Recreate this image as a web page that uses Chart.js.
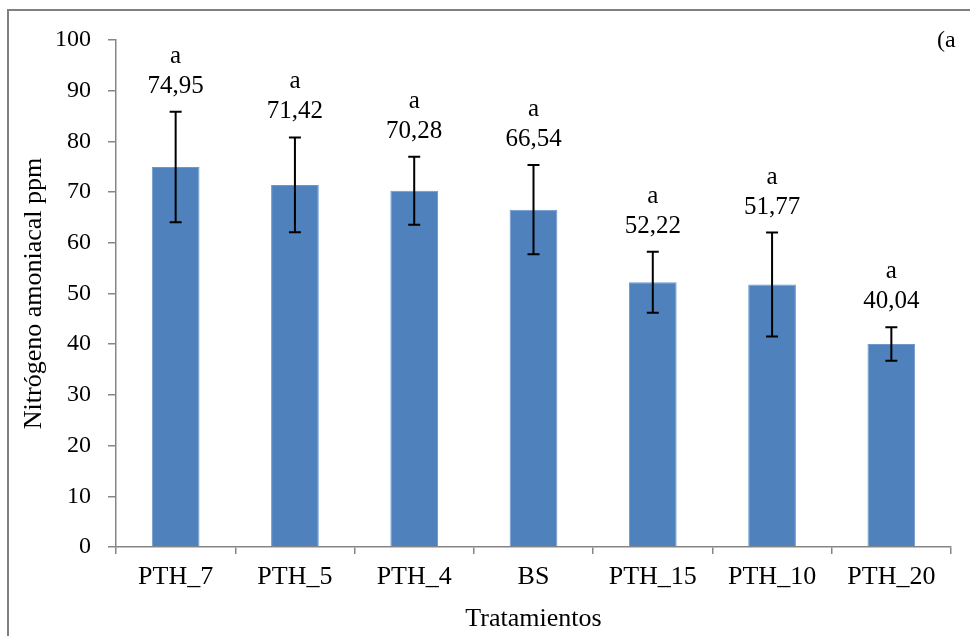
<!DOCTYPE html>
<html>
<head>
<meta charset="utf-8">
<script src="https://cdn.jsdelivr.net/npm/chart.js@4.4.1/dist/chart.umd.min.js"></script>
<style>
  html, body { margin: 0; padding: 0; background: #fff; }
  #wrap { position: relative; width: 970px; height: 636px; }
</style>
</head>
<body>
<div id="wrap"><canvas id="chart" width="970" height="636"></canvas></div>
<script>
// data
const tratamientos = ['PTH_7', 'PTH_5', 'PTH_4', 'BS', 'PTH_15', 'PTH_10', 'PTH_20'];
const nitrogeno = [74.95, 71.42, 70.28, 66.54, 52.22, 51.77, 40.04];
const errores = [10.9, 9.35, 6.7, 8.8, 6.0, 10.25, 3.3];
const letras = ['a', 'a', 'a', 'a', 'a', 'a', 'a'];
const yTicks = [0, 10, 20, 30, 40, 50, 60, 70, 80, 90, 100];

const serif = "'Liberation Serif', 'Times New Roman', serif";
const axisGray = '#868686';

// error bars + "a" / value labels + frame
const extras = {
  id: 'extras',
  beforeDraw(chart) {
    const ctx = chart.ctx;
    ctx.save();
    ctx.strokeStyle = '#808080';
    ctx.lineWidth = 2;
    ctx.beginPath();
    ctx.moveTo(8, 636);
    ctx.lineTo(8, 10);
    ctx.lineTo(970, 10);
    ctx.stroke();
    ctx.restore();
  },
  afterDatasetsDraw(chart) {
    const ctx = chart.ctx;
    const y = chart.scales.y;
    const meta = chart.getDatasetMeta(0);
    ctx.save();
    meta.data.forEach((bar, i) => {
      const top = y.getPixelForValue(nitrogeno[i] + errores[i]);
      const bot = y.getPixelForValue(nitrogeno[i] - errores[i]);
      ctx.strokeStyle = '#000';
      ctx.lineWidth = 2;
      ctx.beginPath();
      ctx.moveTo(bar.x, top);
      ctx.lineTo(bar.x, bot);
      ctx.moveTo(bar.x - 6, top);
      ctx.lineTo(bar.x + 6, top);
      ctx.moveTo(bar.x - 6, bot);
      ctx.lineTo(bar.x + 6, bot);
      ctx.stroke();

      ctx.fillStyle = '#000';
      ctx.textAlign = 'center';
      ctx.textBaseline = 'alphabetic';
      ctx.font = '25px ' + serif;
      ctx.fillText(nitrogeno[i].toFixed(2).replace('.', ','), bar.x, top - 19);
      ctx.fillText(letras[i], bar.x, top - 49);
    });
    ctx.font = '24px ' + serif;
    ctx.textAlign = 'left';
    ctx.fillText('(a', 937, 47);
    ctx.restore();
  }
};

new Chart(document.getElementById('chart'), {
  type: 'bar',
  data: {
    labels: tratamientos,
    datasets: [{
      data: nitrogeno,
      backgroundColor: '#4F81BD',
      borderColor: '#6E98CC',
      borderWidth: 1,
      borderSkipped: 'bottom',
      barPercentage: 0.4,
      categoryPercentage: 1.0
    }]
  },
  options: {
    responsive: false,
    animation: false,
    layout: { padding: { top: 40, right: 19, left: 0, bottom: 0 } },
    plugins: { legend: { display: false }, tooltip: { enabled: false } },
    scales: {
      x: {
        afterFit(scale) { scale.height = 89; },
        border: { color: axisGray, width: 1.5 },
        grid: { drawOnChartArea: false, offset: true, color: axisGray, lineWidth: 1.5, tickLength: 7 },
        ticks: { color: '#000', font: { family: serif, size: 26 }, padding: 8 },
        title: { display: true, text: 'Tratamientos', color: '#000', font: { family: serif, size: 26 }, padding: { top: 0, bottom: 1 } }
      },
      y: {
        min: 0,
        max: 100,
        afterFit(scale) { scale.width = 116; },
        afterBuildTicks(scale) { scale.ticks = yTicks.map(v => ({ value: v })); },
        border: { color: axisGray, width: 1.5 },
        grid: { drawOnChartArea: false, color: axisGray, lineWidth: 1.5, tickLength: 8 },
        ticks: { color: '#000', font: { family: serif, size: 24 }, padding: 17 },
        title: { display: true, text: 'Nitrógeno amoniacal ppm', color: '#000', font: { family: serif, size: 26 }, padding: { top: 19, bottom: 0 } }
      }
    }
  },
  plugins: [extras]
});
</script>
</body>
</html>
